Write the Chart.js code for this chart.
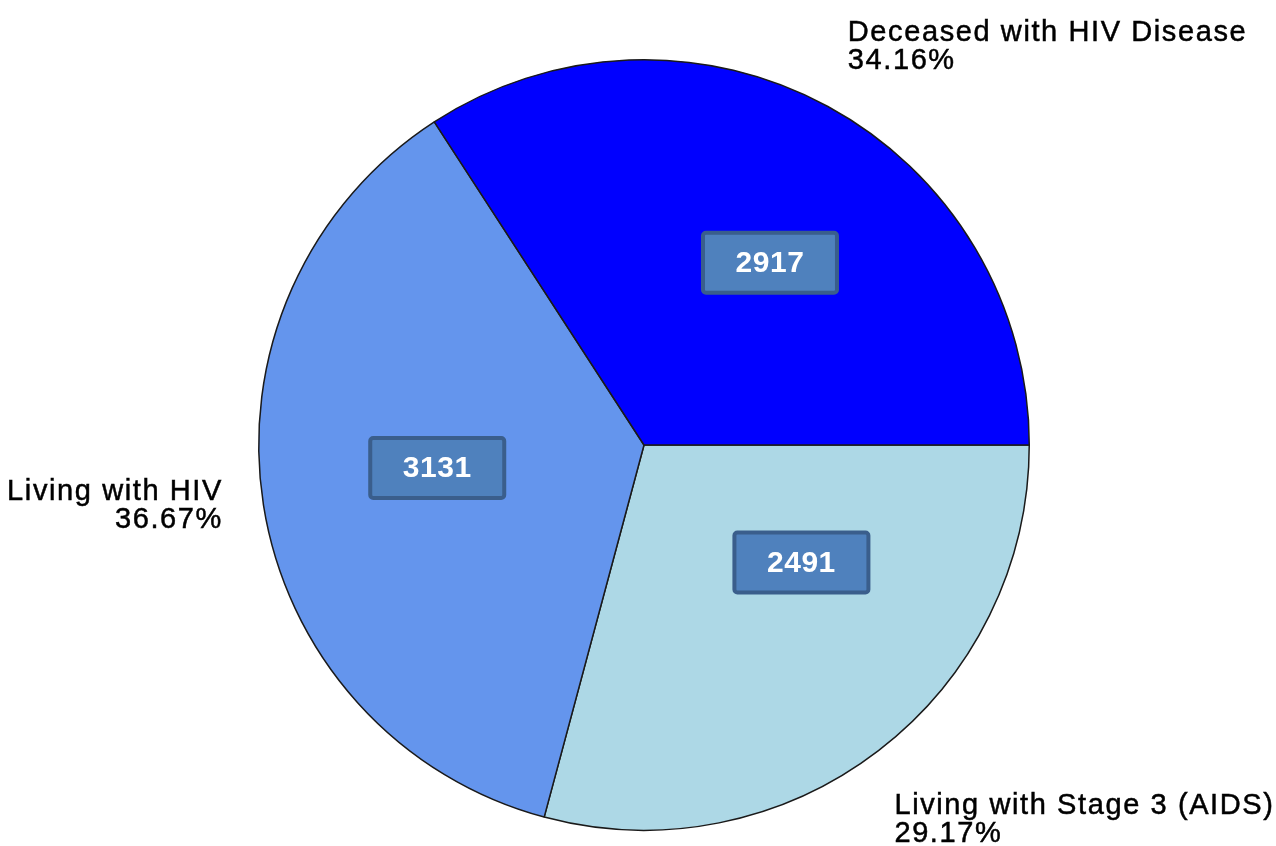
<!DOCTYPE html>
<html>
<head>
<meta charset="utf-8">
<script src="https://cdn.jsdelivr.net/npm/chart.js@4.4.1/dist/chart.umd.min.js"></script>
<style>
  html, body { margin: 0; padding: 0; background: #fff; }
  #wrap { width: 1276px; height: 846px; }
</style>
</head>
<body>
<div id="wrap"><canvas id="pie" width="1276" height="846"></canvas></div>
<script>
// slices in clockwise order starting at 3 o'clock
const categories = ['Living with Stage 3 (AIDS)', 'Living with HIV', 'Deceased with HIV Disease'];
const counts = [2491, 3131, 2917];
const sliceColors = ['#ADD8E6', '#6495ED', '#0000FF'];

const total = counts.reduce((a, b) => a + b, 0);
const percents = counts.map(v => (v / total * 100).toFixed(2) + '%');

// where the value boxes sit inside each slice (fraction of sweep, fraction of radius)
const boxPlace = [
  { along: 0.35, out: 0.51 },
  { along: 0.52, out: 0.54 },
  { along: 0.55, out: 0.575 }
];
// outside labels, relative to centre in units of radius
const outsidePlace = [
  { dx: 0.650, dy: 0.958, align: 'left' },
  { dx: -1.093, dy: 0.142, align: 'right' },
  { dx: 0.529, dy: -1.049, align: 'left' }
];

const labelFont = '29px "Liberation Sans", Arial, sans-serif';

const sliceLabels = {
  id: 'sliceLabels',
  afterDatasetsDraw(chart) {
    const ctx = chart.ctx;
    const arcs = chart.getDatasetMeta(0).data;
    arcs.forEach((arc, i) => {
      const { x, y, startAngle, endAngle, outerRadius } = arc.getProps(['x', 'y', 'startAngle', 'endAngle', 'outerRadius'], true);

      // value box
      const a = startAngle + boxPlace[i].along * (endAngle - startAngle);
      const bx = x + Math.cos(a) * outerRadius * boxPlace[i].out;
      const by = y + Math.sin(a) * outerRadius * boxPlace[i].out;
      const w = 134, h = 60;
      ctx.save();
      ctx.beginPath();
      ctx.roundRect(bx - w / 2, by - h / 2, w, h, 3);
      ctx.fillStyle = '#4F81BD';
      ctx.fill();
      ctx.lineWidth = 4;
      ctx.strokeStyle = '#3A5E8C';
      ctx.stroke();
      ctx.fillStyle = '#ffffff';
      ctx.font = 'bold 30px "Liberation Sans", Arial, sans-serif';
      ctx.letterSpacing = '0.5px';
      ctx.textAlign = 'center';
      ctx.textBaseline = 'middle';
      ctx.fillText(String(counts[i]), bx, by + 1);
      ctx.restore();

      // category + percent outside
      const p = outsidePlace[i];
      const tx = x + p.dx * outerRadius;
      const ty = y + p.dy * outerRadius;
      ctx.save();
      ctx.font = labelFont;
      ctx.letterSpacing = '1.6px';
      ctx.fillStyle = '#000';
      ctx.strokeStyle = '#000';
      ctx.lineWidth = 0.5;
      ctx.textAlign = p.align;
      ctx.textBaseline = 'alphabetic';
      ctx.fillText(categories[i], tx, ty);
      ctx.strokeText(categories[i], tx, ty);
      ctx.fillText(percents[i], tx, ty + 28);
      ctx.strokeText(percents[i], tx, ty + 28);
      ctx.restore();
    });
  }
};

new Chart(document.getElementById('pie'), {
  type: 'pie',
  data: {
    labels: categories,
    datasets: [{
      data: counts,
      backgroundColor: sliceColors,
      borderColor: '#1a1a1a',
      borderWidth: 1.5
    }]
  },
  options: {
    responsive: false,
    animation: false,
    rotation: 90,
    layout: { padding: { top: 59, bottom: 15, left: 12, right: 0 } },
    plugins: {
      legend: { display: false },
      tooltip: { enabled: false }
    }
  },
  plugins: [sliceLabels]
});
</script>
</body>
</html>
